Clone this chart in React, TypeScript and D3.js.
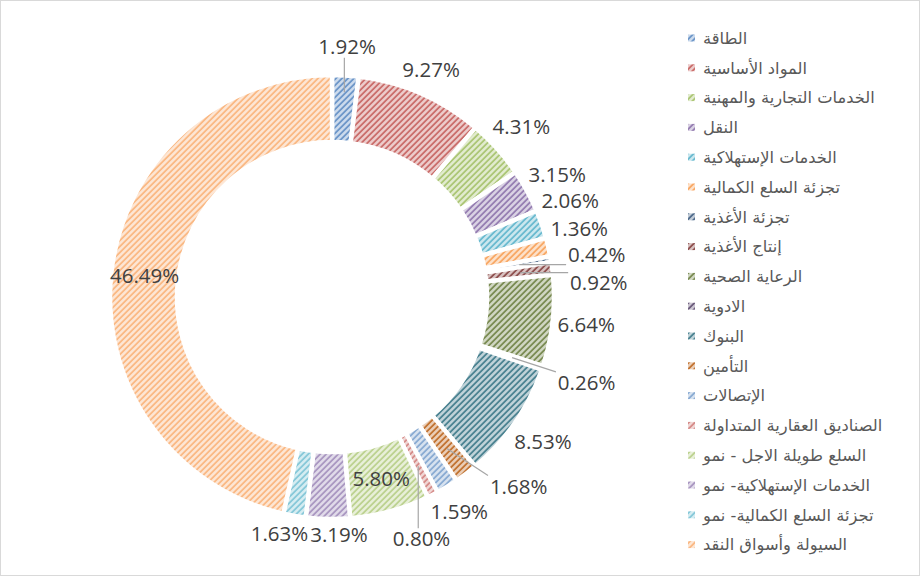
import React from 'react';
import * as d3 from 'd3';

const categories: string[] = [
  'الطاقة',
  'المواد الأساسية',
  'الخدمات التجارية والمهنية',
  'النقل',
  'الخدمات الإستهلاكية',
  'تجزئة السلع الكمالية',
  'تجزئة الأغذية',
  'إنتاج الأغذية',
  'الرعاية الصحية',
  'الادوية',
  'البنوك',
  'التأمين',
  'الإتصالات',
  'الصناديق العقارية المتداولة',
  'السلع طويلة الاجل - نمو',
  'الخدمات الإستهلاكية- نمو',
  'تجزئة السلع الكمالية- نمو',
  'السيولة وأسواق النقد',
];

const values: number[] = [1.92, 9.27, 4.31, 3.15, 2.06, 1.36, 0.42, 0.92, 6.64, 0.26, 8.53, 1.68, 1.59, 0.8, 5.8, 3.19, 1.63, 46.49];

const colors: string[] = [
  '#4F81BD', '#C0504D', '#9BBB59', '#8064A2', '#4BACC6', '#F79646',
  '#2C4D75', '#772C2A', '#5F7530', '#4D3B62', '#276A7C', '#B65708',
  '#729ACA', '#CD7371', '#AFC97A', '#9983B5', '#6FBDD1', '#F9AB6B',
];

// label layout config (by series index)
const INSIDE_LABELS = new Set([14, 17]);
const LEADER_LABELS = new Set([0, 6, 7, 9, 11, 13]);

const W = 920;
const H = 576;
const cx = 332;
const cy = 297;
const R_OUT = 222;
const R_IN = 155;
const LABEL_FONT = 20.5;
const LABEL_H = 22;
const SEP_H = 26.5;

function textWidth(s: string): number {
  let w = 0;
  for (const ch of s) {
    if (ch === '.') w += 0.26;
    else if (ch === '%') w += 0.82;
    else w += 0.572;
  }
  return w * LABEL_FONT;
}

type Lab = { i: number; a: number; w: number; x: number; y: number; leader: boolean };

function placeAt(l: Lab) {
  const extra = l.leader ? 12 : 0;
  const r = 226 + extra + (l.w / 2) * Math.abs(Math.sin(l.a)) + (LABEL_H / 2) * Math.abs(Math.cos(l.a));
  l.x = cx + r * Math.sin(l.a);
  l.y = cy - r * Math.cos(l.a);
}

export default function App() {
  const pie = d3.pie<number>().sort(null).value((d) => d);
  const arcs = pie(values);
  const arc = d3.arc<d3.PieArcDatum<number>>().innerRadius(R_IN).outerRadius(R_OUT);

  const fmt = (v: number) => d3.format('.2f')(v) + '%';

  const outside: Lab[] = [];
  const inside: { i: number; x: number; y: number }[] = [];
  arcs.forEach((a, i) => {
    const mid = (a.startAngle + a.endAngle) / 2;
    if (INSIDE_LABELS.has(i)) {
      const [x, y] = arc.centroid(a);
      inside.push({ i, x: cx + x, y: cy + y });
    } else {
      const l: Lab = { i, a: mid, w: textWidth(fmt(values[i])), x: 0, y: 0, leader: LEADER_LABELS.has(i) };
      placeAt(l);
      outside.push(l);
    }
  });

  // relax labels along the circle so that they do not overlap
  const ordered = outside.slice().sort((p, q) => p.a - q.a);
  for (let it = 0; it < 1000; it++) {
    let moved = false;
    for (let k = 0; k < ordered.length - 1; k++) {
      const p = ordered[k];
      const q = ordered[k + 1];
      const ox = Math.abs(p.x - q.x) < (p.w + q.w) / 2 + 2;
      const oy = Math.abs(p.y - q.y) < SEP_H;
      if (ox && oy) {
        p.a -= 0.003;
        q.a += 0.003;
        placeAt(p);
        placeAt(q);
        moved = true;
      }
    }
    if (!moved) break;
  }

  const legendY0 = 38;
  const legendStep = 29.8;
  const P = 6 / Math.SQRT2;

  return (
    <svg width={W} height={H} style={{ position: 'absolute', left: 0, top: 0, background: '#fff' }}>
      <defs>
        {colors.map((c, i) => {
          const tint = d3.interpolateRgb(c, '#ffffff')(0.72);
          return (
            <pattern key={i} id={`pat${i}`} width={P} height={P} patternUnits="userSpaceOnUse" patternTransform="rotate(45)">
              <rect width={P} height={P} fill={tint} />
              <line x1={1} y1={0} x2={1} y2={P} stroke={c} strokeWidth={1.7} strokeOpacity={0.85} />
            </pattern>
          );
        })}
      </defs>
      <rect x={0.5} y={0.5} width={W - 1} height={H - 1} fill="#fff" stroke="#d9d9d9" />

      <g transform={`translate(${cx},${cy})`}>
        {arcs.map((a, i) => (
          <path key={i} d={arc(a) || ''} fill={`url(#pat${i})`} stroke="#fff" strokeWidth={4.5} />
        ))}
      </g>

      {outside.filter((l) => l.leader).map((l) => {
        const a = arcs[l.i];
        const mid = (a.startAngle + a.endAngle) / 2;
        const rr = l.i === 0 ? 205 : 190;
        const ex = cx + rr * Math.sin(mid);
        const ey = cy - rr * Math.cos(mid);
        const bx0 = l.x - l.w / 2 - 2;
        const bx1 = l.x + l.w / 2 + 2;
        const by0 = l.y - LABEL_H / 2;
        const by1 = l.y + LABEL_H / 2;
        const sx = Math.max(bx0, Math.min(bx1, ex));
        const sy = Math.max(by0, Math.min(by1, ey));
        return <line key={`ld${l.i}`} x1={sx} y1={sy} x2={ex} y2={ey} stroke="#a6a6a6" strokeWidth={1.2} />;
      })}

      <g fontFamily="'Open Sans', 'DejaVu Sans', sans-serif" fontSize={LABEL_FONT} fill="#404040" textAnchor="middle">
        {outside.map((l) => (
          <text key={`lo${l.i}`} x={l.x} y={l.y} dy="0.35em">{fmt(values[l.i])}</text>
        ))}
        {inside.map((l) => (
          <text key={`li${l.i}`} x={l.x} y={l.y} dy="0.35em">{fmt(values[l.i])}</text>
        ))}
      </g>

      <g fontFamily="'DejaVu Sans', sans-serif" fontSize={16.3} fill="#595959">
        {categories.map((name, i) => {
          const y = legendY0 + i * legendStep;
          return (
            <g key={`lg${i}`}>
              <rect x={688} y={y - 3.5} width={7} height={7} fill={`url(#pat${i})`} />
              <text x={703} y={y} dy="0.35em" textAnchor="start">{name}</text>
            </g>
          );
        })}
      </g>
    </svg>
  );
}
